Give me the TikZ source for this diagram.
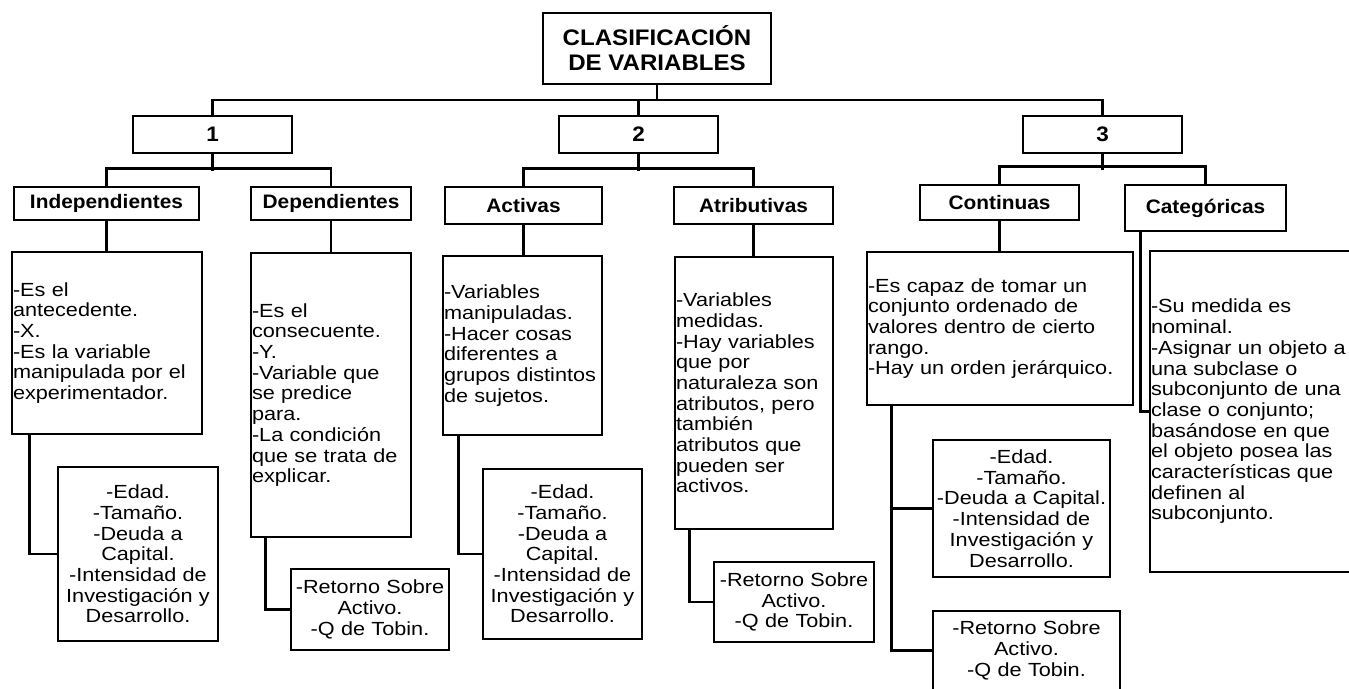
\documentclass[tikz,border=0pt]{standalone}
\usepackage{fontspec}
\setmainfont{Liberation Sans}[UprightFeatures={FakeStretch=1.14}, BoldFeatures={FakeStretch=1.07}]
\usepackage{tikz}

\begin{document}
\begin{tikzpicture}[x=1pt, y=-1pt, every path/.style={line width=2.6pt},
		box/.style={draw, line width=2.8pt, inner sep=0pt},
		head/.style={box, align=center, font=\bfseries\fontsize{19.5}{21}\selectfont},
		num/.style={head, font=\bfseries\fontsize{21}{21}\selectfont},
		desc/.style={box, inner xsep=1pt, align=left, font=\fontsize{19}{20.7}\selectfont},
		list/.style={box, inner xsep=1pt, align=center, font=\fontsize{19}{20.7}\selectfont}]
		\fill[white] (0,0) rectangle (1349,688);
		\useasboundingbox (0,0) rectangle (1349,688);
		
		\node[head, font=\bfseries\fontsize{22.5}{25}\selectfont, minimum width=228pt, minimum height=71pt] (title) at (657, 48.5) {CLASIFICACIÓN\\DE VARIABLES};
		\node[num, minimum width=159pt, minimum height=37pt] (one) at (212.5, 134.5) {1};
		\node[num, minimum width=159pt, minimum height=37pt] (two) at (638.5, 134.5) {2};
		\node[num, minimum width=159pt, minimum height=37pt] (three) at (1102.5, 134.5) {3};
		
		\coordinate (bus) at (0, 100);
		\draw (title.south) -- (title.south |- bus);
		\draw (one.north) -- (one.north |- bus) -| (three.north);
		\draw (two.north) -- (two.north |- bus);
		
		% grupo 1
		\node[head, minimum width=185pt, minimum height=33pt] (indep) at (106.5, 203.5) {Independientes};
		\node[head, minimum width=160pt, minimum height=33pt] (dep) at (331, 203.5) {Dependientes};
		\draw (one.south) -- ++(0, 17);
		\draw (indep.north) -- ++(0, -17) -| (dep.north);
		
		\node[desc, text width=188pt, minimum height=182pt] (indepDef) at (107, 343) {-Es el\\antecedente.\\-X.\\-Es la variable\\manipulada por el\\experimentador.};
		\node[desc, text width=158pt, minimum height=284pt] (depDef) at (331, 395) {-Es el\\consecuente.\\-Y.\\-Variable que\\se predice\\para.\\-La condición\\que se trata de\\explicar.};
		\draw (indep.south) -- (indep.south |- indepDef.north);
		\draw (dep.south) -- (dep.south |- depDef.north);
		
		\node[list, text width=158pt, minimum height=174pt] (indepEj) at (138, 554) {-Edad.\\-Tamaño.\\-Deuda a\\Capital.\\-Intensidad de\\Investigación y\\Desarrollo.};
		\node[list, text width=156pt, minimum height=81pt] (depEj) at (370, 609.5) {-Retorno Sobre\\Activo.\\-Q de Tobin.};
		\draw ([xshift=19pt]indepDef.south west) |- (indepEj.west);
		\draw ([xshift=16pt]depDef.south west) |- (depEj.west);
		
		% grupo 2
		\node[head, minimum width=157pt, minimum height=37pt] (act) at (523.5, 205.5) {Activas};
		\node[head, minimum width=159pt, minimum height=37pt] (atr) at (753.5, 205.5) {Atributivas};
		\draw (two.south) -- ++(0, 17);
		\draw (act.north) -- ++(0, -17) -| (atr.north);
		
		\node[desc, text width=157pt, minimum height=179pt] (actDef) at (522.5, 345.5) {-Variables\\manipuladas.\\-Hacer cosas\\diferentes a\\grupos distintos\\de sujetos.};
		\node[desc, text width=156pt, minimum height=272pt] (atrDef) at (754, 393) {-Variables\\medidas.\\-Hay variables\\que por\\naturaleza son\\atributos, pero\\también\\atributos que\\pueden ser\\activos.};
		\draw (act.south) -- (act.south |- actDef.north);
		\draw (atr.south) -- (atr.south |- atrDef.north);
		
		\node[list, text width=157pt, minimum height=170pt] (actEj) at (562.5, 554) {-Edad.\\-Tamaño.\\-Deuda a\\Capital.\\-Intensidad de\\Investigación y\\Desarrollo.};
		\node[list, text width=158pt, minimum height=80pt] (atrEj) at (794, 602) {-Retorno Sobre\\Activo.\\-Q de Tobin.};
		\draw ([xshift=17pt]actDef.south west) |- (actEj.west);
		\draw ([xshift=16pt]atrDef.south west) |- (atrEj.west);
		
		% grupo 3
		\node[head, minimum width=159pt, minimum height=35pt] (cont) at (999.5, 202.5) {Continuas};
		\node[head, minimum width=161pt, minimum height=46pt] (cat) at (1205.5, 208) {Categóricas};
		\draw (three.south) -- ++(0, 16);
		\draw (cont.north) -- ++(0, -17) -| (cat.north);
		
		\node[desc, text width=264pt, minimum height=153pt] (contDef) at (1000, 328.5) {-Es capaz de tomar un\\conjunto ordenado de\\valores dentro de cierto\\rango.\\-Hay un orden jerárquico.};
		\node[desc, text width=208pt, minimum height=321pt] (catDef) at (1255, 411.5) {-Su medida es\\nominal.\\-Asignar un objeto a\\una subclase o\\subconjunto de una\\clase o conjunto;\\basándose en que\\el objeto posea las\\características que\\definen al\\subconjunto.};
		\draw (cont.south) -- (cont.south |- contDef.north);
		\draw ([xshift=17pt]cat.south west) |- (catDef.west);
		
		\node[list, text width=175pt, minimum height=137pt] (contEjA) at (1021.5, 508.5) {-Edad.\\-Tamaño.\\-Deuda a Capital.\\-Intensidad de\\Investigación y\\Desarrollo.};
		\node[list, text width=185pt, minimum height=79pt] (contEjB) at (1026.5, 650.5) {-Retorno Sobre\\Activo.\\-Q de Tobin.};
		\draw ([xshift=26pt]contDef.south west) |- (contEjA.west);
		\draw ([xshift=26pt]contDef.south west) |- (contEjB.west);
		
	\end{tikzpicture}
\end{document}
